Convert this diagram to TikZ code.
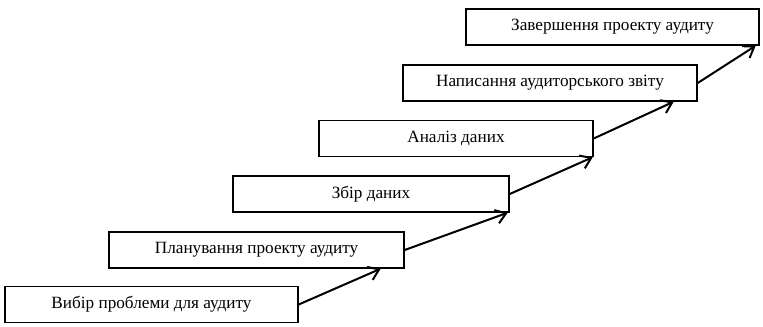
\documentclass[tikz,border=0pt]{standalone}
\usepackage{fontspec}
\setmainfont{Liberation Serif}
\usetikzlibrary{arrows.meta}

\begin{document}
\begin{tikzpicture}[
    x=0.5pt, y=-0.5pt,
    >={Straight Barb[length=5pt, width=7pt]},
    stagebox/.style={draw, line width=0.7pt, rectangle, minimum height=18pt, inner sep=0pt, align=center, font=\fontsize{8.6}{10}\selectfont},
    stagelink/.style={->, line width=1pt}
]

\useasboundingbox (0,0) rectangle (763,326);

% -------------------------
% Stages (staircase)
% -------------------------
\node[stagebox, minimum width=146.5pt] (Select) at (151.5, 304.5) {Вибір проблеми для аудиту};
\node[stagebox, minimum width=147.5pt] (Plan) at (256.5, 250) {Планування проекту аудиту};
\node[stagebox, minimum width=138pt] (Collect) at (371, 194) {Збір даних};
\node[stagebox, minimum width=137pt] (Analyse) at (456, 138.5) {Аналіз даних};
\node[stagebox, minimum width=147pt] (Report) at (550, 83) {Написання аудиторського звіту};
\node[stagebox, minimum width=146.5pt] (Finish) at (612.5, 27) {Завершення проекту аудиту};

% -------------------------
% Steps between stages
% -------------------------
\draw[stagelink] (Select.east) -- ([xshift=-12pt]Plan.south east);
\draw[stagelink] (Plan.east) -- ([xshift=-1pt]Collect.south east);
\draw[stagelink] (Collect.east) -- ([xshift=-0.5pt]Analyse.south east);
\draw[stagelink] (Analyse.east) -- ([xshift=-12pt]Report.south east);
\draw[stagelink] (Report.east) -- ([xshift=-2pt]Finish.south east);

\end{tikzpicture}
\end{document}
